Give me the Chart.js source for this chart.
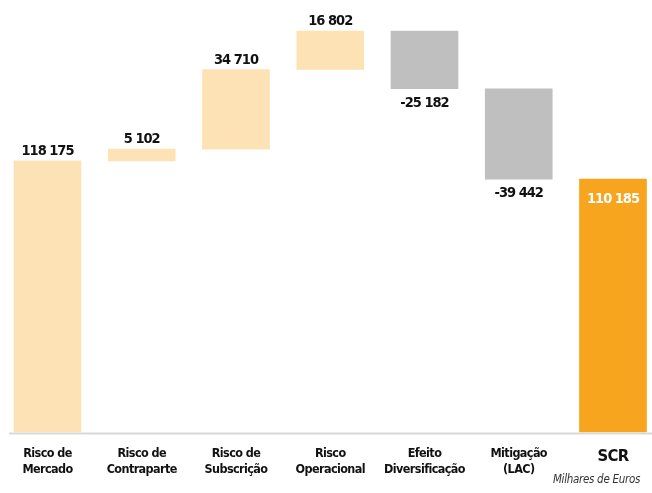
<!DOCTYPE html>
<html>
<head>
<meta charset="utf-8">
<script src="https://cdn.jsdelivr.net/npm/chart.js@4.4.0/dist/chart.umd.min.js"></script>
<style>
html,body{margin:0;padding:0;background:#fff;overflow:hidden;}
#wrap{width:652px;height:493px;position:relative;}
</style>
</head>
<body>
<div id="wrap"><canvas id="c" width="652" height="493"></canvas></div>
<script>
const categories = [["Risco de","Mercado"],["Risco de","Contraparte"],["Risco de","Subscrição"],["Risco","Operacional"],["Efeito","Diversificação"],["Mitigação","(LAC)"],"SCR"];
const values = [118175, 5102, 34710, 16802, -25182, -39442, 110185];
const valueLabels = ["118 175","5 102","34 710","16 802","-25 182","-39 442","110 185"];
const unitNote = "Milhares de Euros";

const FONT = '"DejaVu Sans Condensed", "Liberation Sans Narrow", sans-serif';
const colPos = '#FDE2B6', colNeg = '#BFBFBF', colTot = '#F7A51E';

// floating ranges built from the values
const ranges = [];
let run = 0;
values.forEach((v, i) => {
  if (i === values.length - 1) { ranges.push([0, v]); }
  else { ranges.push([run, run + v]); run += v; }
});
const colors = values.map((v, i) => i === values.length - 1 ? colTot : (v < 0 ? colNeg : colPos));

const labelPlugin = {
  id: 'labels',
  beforeDraw(chart) {
    chart.ctx.letterSpacing = '-0.6px';
  },
  afterDatasetsDraw(chart) {
    const ctx = chart.ctx;
    const meta = chart.getDatasetMeta(0);
    const yScale = chart.scales.y;
    ctx.save();
    // baseline
    const y0 = yScale.getPixelForValue(0);
    ctx.strokeStyle = '#D9D9D9';
    ctx.lineWidth = 2;
    ctx.beginPath();
    ctx.moveTo(9, y0 + 1.5);
    ctx.lineTo(652, y0 + 1.5);
    ctx.stroke();
    ctx.textAlign = 'center';
    ctx.letterSpacing = '-1px';
    meta.data.forEach((bar, i) => {
      const top = Math.min(bar.y, bar.base);
      const bottom = Math.max(bar.y, bar.base);
      const last = i === values.length - 1;
      ctx.font = 'bold 14.5px ' + FONT;
      if (last) {
        ctx.fillStyle = '#FFFFFF';
        ctx.textBaseline = 'top';
        ctx.fillText(valueLabels[i], bar.x, top + 13);
      } else if (values[i] < 0) {
        ctx.fillStyle = '#111111';
        ctx.textBaseline = 'top';
        ctx.fillText(valueLabels[i], bar.x, bottom + 7);
      } else {
        ctx.fillStyle = '#111111';
        ctx.textBaseline = 'alphabetic';
        ctx.fillText(valueLabels[i], bar.x, top - 6);
      }
    });
    ctx.letterSpacing = '-0.3px';
    ctx.font = 'italic 11.5px ' + FONT;
    ctx.fillStyle = '#333333';
    ctx.textAlign = 'right';
    ctx.textBaseline = 'middle';
    ctx.fillText(unitNote, 640, 480);
    ctx.restore();
  }
};

new Chart(document.getElementById('c'), {
  type: 'bar',
  data: {
    labels: categories,
    datasets: [{
      data: ranges,
      backgroundColor: colors,
      barThickness: 67,
      borderWidth: 0,
      clip: false
    }]
  },
  options: {
    responsive: false,
    animation: false,
    layout: { padding: { left: 47.5, right: 39, top: 19, bottom: 0 } },
    plugins: { legend: { display: false }, tooltip: { enabled: false } },
    scales: {
      x: {
        offset: false,
        grid: { display: false, drawTicks: false },
        border: { display: false },
        ticks: {
          padding: 14,
          maxRotation: 0,
          autoSkip: false,
          color: '#111111',
          font: (c) => ({ family: FONT, weight: 'bold', size: c.index === values.length - 1 ? 16.5 : 12.5, lineHeight: 1.28 })
        },
        afterFit: (axis) => { axis.height = 61; }
      },
      y: {
        display: false,
        min: 0,
        max: 180000
      }
    }
  },
  plugins: [labelPlugin]
});
</script>
</body>
</html>
